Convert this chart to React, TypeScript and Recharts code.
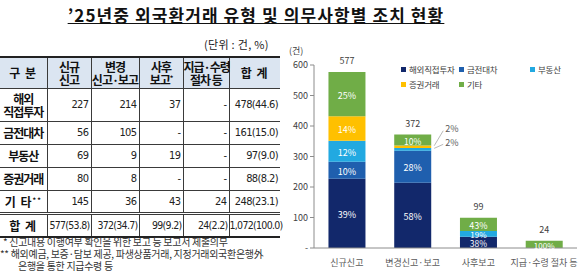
import React from "react";
import { BarChart, Bar, XAxis, YAxis, LabelList } from "recharts";

// chart: counts by obligation type (x) and transaction type (stack)
const chartCategories = ["신규신고", "변경신고·보고", "사후보고", "지급·수령 절차 등"];
const seriesNames = ["해외직접투자", "금전대차", "부동산", "증권거래", "기타"];
const seriesKeys = ["fdi", "loan", "realEstate", "securities", "other"];
const seriesColors = ["#12286b", "#1f5fae", "#22a9e1", "#ffc000", "#70ad47"];

const fdiCounts = [227, 214, 37, 0];
const loanCounts = [56, 105, 0, 0];
const realEstateCounts = [69, 9, 19, 0];
const securitiesCounts = [80, 8, 0, 0];
const otherCounts = [145, 36, 43, 24];
const barTotals = [577, 372, 99, 24];

const fdiShares = [39, 58, 38, 0];
const loanShares = [10, 28, 0, 0];
const realEstateShares = [12, 2, 19, 0];
const securitiesShares = [14, 2, 0, 0];
const otherShares = [25, 10, 43, 100];

const yTicks = [0, 100, 200, 300, 400, 500, 600];

// table
const tableHeaders = [["구 분"], ["신규", "신고"], ["변경", "신고·보고"], ["사후", "보고*"], ["지급·수령", "절차 등"], ["합 계"]];
const tableRowLabels = [["해외", "직접투자"], ["금전대차"], ["부동산"], ["증권거래"], ["기 타**"]];
const rowTotals = ["478(44.6)", "161(15.0)", "97(9.0)", "88(8.2)", "248(23.1)"];
const columnTotals = ["577(53.8)", "372(34.7)", "99(9.2)", "24(2.2)", "1,072(100.0)"];
const footnotes = [
  "* 신고내용 이행여부 확인을 위한 보고 등 보고서 제출의무",
  "** 해외예금, 보증·담보 제공, 파생상품거래, 지정거래외국환은행外",
  "은행을 통한 지급수령 등",
];

const countsBySeries = [fdiCounts, loanCounts, realEstateCounts, securitiesCounts, otherCounts];
const sharesBySeries = [fdiShares, loanShares, realEstateShares, securitiesShares, otherShares];

const chartData = chartCategories.map((name, i) => {
  const row: any = { name };
  seriesKeys.forEach((k, s) => {
    row[k] = countsBySeries[s][i];
  });
  return row;
});

const KR = "'Noto Sans CJK KR', 'Noto Sans', sans-serif";
const NUM = "'Liberation Sans Narrow', 'DejaVu Sans Condensed', 'Noto Sans CJK KR', sans-serif";

// offsets for small slices drawn outside the bar
const outsideDy = [0, 0, -7, -18, 0];

function makeShareLabel(s: number) {
  return (props: any) => {
    const { x, y, width, height, index } = props;
    const share = sharesBySeries[s][index];
    if (!share) return null;
    const cx = x + width / 2;
    const cy = y + height / 2;
    if (share <= 3) {
      const x0 = x + width + 3;
      const ly = cy + outsideDy[s];
      return (
        <g>
          <line x1={x0} y1={cy - 1} x2={x0 + 9} y2={ly + 2} stroke="#a6a6a6" strokeWidth={0.8} />
          <text x={x0 + 11} y={ly} fill="#595959" fontSize={9} fontFamily={KR} dominantBaseline="central">
            {share}%
          </text>
        </g>
      );
    }
    return (
      <text
        x={cx}
        y={cy + 1}
        fill="#ffffff"
        fontSize={height < 8 ? 8 : height < 12 ? 8.5 : 9}
        fontFamily={KR}
        textAnchor="middle"
        dominantBaseline="central"
      >
        {share}%
      </text>
    );
  };
}

const TotalLabel = (props: any) => {
  const { x, y, width, index } = props;
  return (
    <text x={x + width / 2} y={y - 8} fill="#404040" fontSize={9} fontFamily={KR} textAnchor="middle">
      {barTotals[index]}
    </text>
  );
};

const LegendBox = () => (
  <div
    style={{
      position: "absolute",
      left: 116,
      top: 63,
      display: "grid",
      gridTemplateColumns: "58px 71px 50px",
      rowGap: 3,
      fontFamily: KR,
      fontSize: 8.5,
      letterSpacing: -0.2,
      color: "#404040",
    }}
  >
    {seriesNames.map((n, i) => (
      <div key={n} style={{ display: "flex", alignItems: "center", whiteSpace: "nowrap", lineHeight: "12px" }}>
        <span style={{ width: 5, height: 5, background: seriesColors[i], marginRight: 3, display: "inline-block" }} />
        {n}
      </div>
    ))}
  </div>
);

const cellBase: React.CSSProperties = {
  borderLeft: "1px solid #3a3a3a",
  borderBottom: "1px solid #3a3a3a",
  padding: 0,
};

function numCell(v: string | number, key: string | number, extra?: React.CSSProperties) {
  return (
    <td key={key} style={{ ...cellBase, textAlign: "right", paddingRight: 2, fontFamily: NUM, fontSize: 11, letterSpacing: -0.6, color: "#222", ...extra }}>
      {v}
    </td>
  );
}

function renderLines(lines: string[]) {
  return lines.map((l, i) => {
    const m = l.match(/^(.*?)(\*+)$/);
    return (
      <div key={i}>
        {m ? (
          <>
            {m[1]}
            <sup style={{ fontSize: 7, verticalAlign: "top", lineHeight: "10px" }}>{m[2]}</sup>
          </>
        ) : (
          l
        )}
      </div>
    );
  });
}

export default function App() {
  const colWidths = [47, 44, 48, 44, 46, 51];
  const rowHeights = [33, 23, 23, 23, 23];
  const last = tableRowLabels.length - 1;
  return (
    <div style={{ position: "absolute", left: 0, top: 0, width: 580, height: 273, background: "#fff", overflow: "hidden" }}>
      <div
        style={{
          position: "absolute",
          left: 0,
          top: 2,
          width: 512,
          textAlign: "center",
          fontFamily: KR,
          fontWeight: 700,
          fontSize: 17,
          textDecoration: "underline",
          color: "#111",
          letterSpacing: 1.1,
          whiteSpace: "nowrap",
        }}
      >
        ’25년중 외국환거래 유형 및 의무사항별 조치 현황
      </div>
      <div style={{ position: "absolute", left: 204, top: 36, fontFamily: KR, fontSize: 11, color: "#222", letterSpacing: 0.3 }}>
        (단위 : 건, %)
      </div>

      <table
        style={{
          position: "absolute",
          left: 0,
          top: 56,
          width: 280,
          borderCollapse: "collapse",
          tableLayout: "fixed",
          borderTop: "2px solid #222",
          borderBottom: "2px solid #222",
        }}
      >
        <colgroup>
          {colWidths.map((w, i) => (
            <col key={i} style={{ width: w }} />
          ))}
        </colgroup>
        <tbody>
          <tr style={{ height: 31, background: "#dbe5f1" }}>
            {tableHeaders.map((h, i) => (
              <td
                key={i}
                style={{
                  ...cellBase,
                  borderLeft: i === 0 ? "none" : cellBase.borderLeft,
                  textAlign: "center",
                  fontFamily: KR,
                  fontWeight: 700,
                  fontSize: 12,
                  letterSpacing: i === 0 || i === 5 ? 1 : -1,
                  lineHeight: "13px",
                  color: "#111",
                  whiteSpace: "nowrap",
                }}
              >
                {renderLines(h)}
              </td>
            ))}
          </tr>
          {tableRowLabels.map((label, r) => {
            const extra = r === last ? { borderBottom: "3px double #3a3a3a" } : undefined;
            return (
              <tr key={r} style={{ height: rowHeights[r] }}>
                <td
                  style={{
                    ...cellBase,
                    borderLeft: "none",
                    ...extra,
                    textAlign: "center",
                    fontFamily: KR,
                    fontWeight: 700,
                    fontSize: 12,
                    letterSpacing: r === last ? 1 : -1,
                    lineHeight: "13px",
                    color: "#111",
                    whiteSpace: "nowrap",
                  }}
                >
                  {renderLines(label)}
                </td>
                {countsBySeries[r].map((v, c) => numCell(v === 0 ? "-" : v, c, extra))}
                {numCell(rowTotals[r], "t", extra)}
              </tr>
            );
          })}
          <tr style={{ height: 24 }}>
            <td
              style={{
                ...cellBase,
                borderLeft: "none",
                textAlign: "center",
                fontFamily: KR,
                fontWeight: 700,
                fontSize: 12,
                letterSpacing: 1,
                color: "#111",
              }}
            >
              합 계
            </td>
            {columnTotals.map((v, c) => numCell(v, c, { fontSize: 10.5, letterSpacing: -0.7, paddingRight: 1 }))}
          </tr>
        </tbody>
      </table>

      {footnotes.map((f, i) => (
        <div
          key={i}
          style={{
            position: "absolute",
            left: i === 0 ? 3 : i === 1 ? 0 : 18,
            top: 236 + i * 12,
            fontFamily: KR,
            fontSize: 10,
            lineHeight: "12px",
            letterSpacing: -0.3,
            color: "#333",
            whiteSpace: "nowrap",
          }}
        >
          {f}
        </div>
      ))}

      <div style={{ position: "absolute", left: 285, top: 0, width: 295, height: 273 }}>
        <div style={{ position: "absolute", left: 4, top: 44, fontFamily: KR, fontSize: 9, color: "#404040", zIndex: 1 }}>(건)</div>
        <BarChart
          width={295}
          height={273}
          data={chartData}
          margin={{ top: 65, right: 3, left: 0, bottom: 0 }}
          barCategoryGap="22%"
        >
          <XAxis
            dataKey="name"
            height={25}
            axisLine={{ stroke: "#8c8c8c" }}
            tickLine={false}
            interval={0}
            tick={{ fill: "#595959", fontSize: 9, fontFamily: KR, dy: 4 }}
          />
          <YAxis
            width={29}
            domain={[0, 600]}
            ticks={yTicks}
            axisLine={{ stroke: "#8c8c8c" }}
            tickLine={{ stroke: "#8c8c8c" }}
            tickSize={4}
            tickFormatter={(v: number) => (v === 0 ? "-" : String(v))}
            tick={{ fill: "#404040", fontSize: 9, fontFamily: KR }}
          />
          {seriesKeys.map((k, s) => (
            <Bar key={k} dataKey={k} name={seriesNames[s]} stackId="a" fill={seriesColors[s]} isAnimationActive={false}>
              <LabelList dataKey={k} content={makeShareLabel(s)} />
              {s === seriesKeys.length - 1 && <LabelList dataKey={k} content={TotalLabel} />}
            </Bar>
          ))}
        </BarChart>
        <LegendBox />
      </div>
    </div>
  );
}
